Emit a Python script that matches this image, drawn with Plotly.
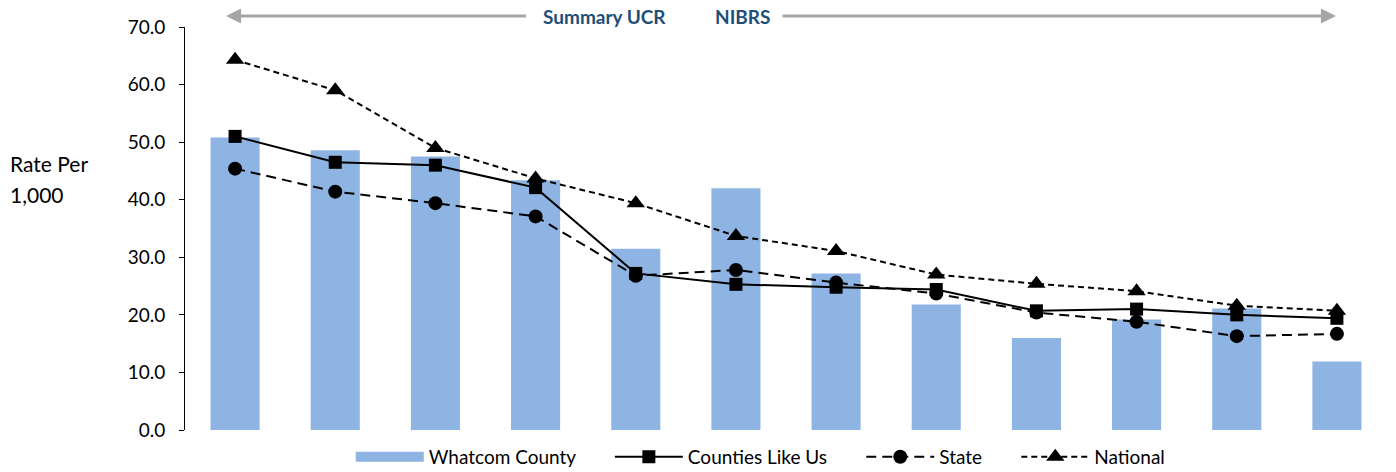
import plotly.graph_objects as go

# Twelve reporting periods, plotted left to right
periods = list(range(12))

whatcom_county = [50.8, 48.6, 47.5, 43.4, 31.5, 42.0, 27.2, 21.8, 16.0, 19.2, 21.1, 11.9]
counties_like_us = [51.0, 46.5, 46.0, 42.1, 27.2, 25.3, 24.8, 24.4, 20.7, 21.0, 20.0, 19.4]
state = [45.4, 41.4, 39.4, 37.1, 26.8, 27.8, 25.6, 23.7, 20.4, 18.8, 16.3, 16.7]
national = [64.3, 59.0, 49.0, 43.7, 39.4, 33.7, 31.1, 27.0, 25.4, 24.1, 21.6, 20.7]

y_ticks = [0, 10, 20, 30, 40, 50, 60, 70]

FONT = "Lato"
BAR_BLUE = "#8EB4E3"
ARROW_GREY = "#A6A6A6"
HEADER_BLUE = "#1F4E79"
PAD = "\u00a0" * 6  # extra room after each legend label

fig = go.Figure()

# Legend-only swatch so the county entry shows as a wide band
fig.add_trace(go.Scatter(
    x=[None], y=[None], mode="lines", name="Whatcom County" + PAD,
    line=dict(color=BAR_BLUE, width=12), legendgroup="wc",
))

fig.add_trace(go.Bar(
    x=periods, y=whatcom_county, name="Whatcom County",
    marker=dict(color=BAR_BLUE, line=dict(width=0)),
    width=0.49, showlegend=False, legendgroup="wc",
))

fig.add_trace(go.Scatter(
    x=periods, y=counties_like_us, name="Counties Like Us" + PAD,
    mode="lines+markers",
    line=dict(color="black", width=2),
    marker=dict(symbol="square", size=13, color="black"),
))

fig.add_trace(go.Scatter(
    x=periods, y=state, name="State" + PAD,
    mode="lines+markers",
    line=dict(color="black", width=2, dash="10px,6px"),
    marker=dict(symbol="circle", size=14, color="black"),
))

fig.add_trace(go.Scatter(
    x=periods, y=national, name="National",
    mode="lines+markers",
    line=dict(color="black", width=2, dash="6px,4px"),
    marker=dict(symbol="triangle-up", size=16, color="black"),
))

# Header arrows spanning the two reporting systems
arrow_y = 1.027
fig.add_annotation(
    x=-0.09, y=arrow_y, xref="x", yref="paper",
    ax=2.92, ay=0, axref="x",
    text="", showarrow=True, arrowhead=2, arrowsize=1,
    arrowwidth=3, arrowcolor=ARROW_GREY,
)
fig.add_annotation(
    x=10.99, y=arrow_y, xref="x", yref="paper",
    ax=5.45, ay=0, axref="x",
    text="", showarrow=True, arrowhead=2, arrowsize=1,
    arrowwidth=3, arrowcolor=ARROW_GREY,
)
fig.add_annotation(
    x=3.69, y=arrow_y, xref="x", yref="paper", yanchor="middle",
    text="<b>Summary UCR</b>", showarrow=False,
    font=dict(family=FONT, size=19, color=HEADER_BLUE),
)
fig.add_annotation(
    x=5.07, y=arrow_y, xref="x", yref="paper", yanchor="middle",
    text="<b>NIBRS</b>", showarrow=False,
    font=dict(family=FONT, size=19, color=HEADER_BLUE),
)

# Axis caption on the left
fig.add_annotation(
    x=-0.1475, y=0.6625, xref="paper", yref="paper",
    text="Rate Per", showarrow=False, xanchor="left", yanchor="middle",
    font=dict(family=FONT, size=21, color="black"),
)
fig.add_annotation(
    x=-0.1475, y=0.5856, xref="paper", yref="paper",
    text="1,000", showarrow=False, xanchor="left", yanchor="middle",
    font=dict(family=FONT, size=21, color="black"),
)

fig.update_layout(
    width=1396, height=472,
    margin=dict(l=185, r=9, t=27, b=42, autoexpand=False),
    paper_bgcolor="white", plot_bgcolor="white",
    font=dict(family=FONT, size=19, color="black"),
    legend=dict(
        orientation="h", x=0.479, xanchor="center",
        yref="container", y=0.032, yanchor="middle",
        itemwidth=68, font=dict(family=FONT, size=19, color="black"),
        traceorder="normal",
    ),
)

fig.update_xaxes(
    range=[-0.5, 11.5], showticklabels=False, showline=False,
    showgrid=False, zeroline=False, ticks="",
)
fig.update_yaxes(
    range=[0, 70], tickvals=y_ticks, tickformat=".1f",
    showline=True, linecolor="black", linewidth=1,
    ticks="outside", ticklen=5, tickcolor="black",
    showgrid=False, zeroline=False, ticklabelstandoff=10,
)

fig.write_html("out.html")
